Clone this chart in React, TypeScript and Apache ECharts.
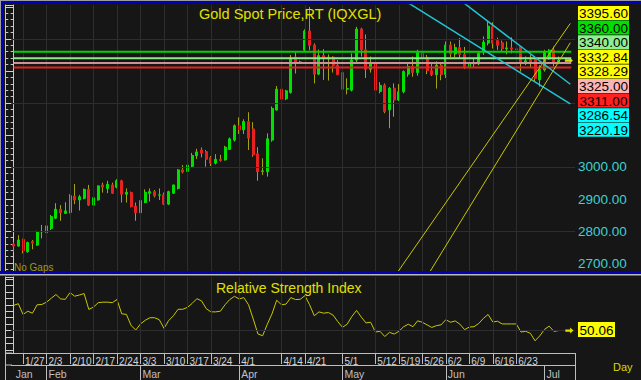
import React, { useEffect, useRef } from 'react';
import * as echarts from 'echarts';

const FONT = '"Liberation Sans", Arial, sans-serif';
const TOTAL_SLOTS = 120;

// [open, close, low, high] per trading day from 1/23
const ohlc: [number, number, number, number][] = [
  [2759, 2753, 2735, 2767], [2753, 2772, 2751, 2787], [2774, 2739, 2730, 2776], [2735, 2764, 2732, 2767],
  [2767, 2762, 2743, 2772], [2756, 2798, 2754, 2801], [2797, 2799, 2777, 2819], [2795, 2816, 2772, 2829],
  [2808, 2845, 2803, 2850], [2840, 2868, 2837, 2887], [2868, 2857, 2832, 2881], [2855, 2863, 2853, 2890],
  [2858, 2910, 2855, 2915], [2909, 2897, 2884, 2947], [2897, 2907, 2864, 2913], [2902, 2930, 2899, 2933],
  [2930, 2881, 2878, 2944], [2881, 2904, 2878, 2907], [2897, 2941, 2895, 2942], [2944, 2937, 2920, 2951],
  [2933, 2946, 2918, 2957], [2944, 2918, 2916, 2951], [2937, 2957, 2933, 2962], [2957, 2915, 2889, 2960],
  [2915, 2921, 2889, 2933], [2920, 2876, 2874, 2923], [2878, 2857, 2832, 2889], [2857, 2895, 2855, 2899],
  [2889, 2921, 2887, 2930], [2918, 2923, 2892, 2933], [2923, 2910, 2905, 2928], [2912, 2913, 2897, 2933],
  [2913, 2884, 2881, 2920], [2884, 2923, 2881, 2926], [2918, 2944, 2916, 2944], [2933, 2991, 2930, 2993],
  [2991, 2984, 2980, 3006], [2986, 3006, 2982, 3009], [3002, 3036, 2999, 3044], [3035, 3047, 3025, 3057],
  [3053, 3043, 3030, 3061], [3048, 3024, 3001, 3053], [3029, 3012, 3003, 3034], [3012, 3024, 3008, 3040],
  [3024, 3020, 3017, 3038], [3022, 3062, 3020, 3066], [3055, 3088, 3053, 3092], [3084, 3129, 3079, 3133],
  [3129, 3116, 3103, 3155], [3116, 3142, 3103, 3149], [3142, 3090, 3053, 3171], [3119, 3038, 3032, 3140],
  [3041, 2985, 2957, 3062], [2986, 2988, 2975, 3027], [2985, 3088, 2970, 3105], [3084, 3183, 3079, 3189],
  [3178, 3243, 3176, 3253], [3243, 3212, 3196, 3253], [3213, 3238, 3209, 3241], [3233, 3341, 3229, 3350],
  [3343, 3327, 3292, 3358], [3327, 3328, 3324, 3332], [3365, 3425, 3360, 3430], [3425, 3380, 3365, 3500],
  [3381, 3290, 3261, 3386], [3290, 3348, 3287, 3367], [3348, 3338, 3272, 3368], [3338, 3343, 3270, 3352],
  [3343, 3317, 3295, 3346], [3318, 3288, 3287, 3334], [3295, 3243, 3207, 3298], [3243, 3245, 3227, 3277],
  [3240, 3334, 3236, 3355], [3334, 3431, 3328, 3438], [3431, 3366, 3345, 3435], [3366, 3305, 3278, 3414],
  [3305, 3324, 3295, 3345], [3325, 3240, 3233, 3330], [3236, 3255, 3230, 3265], [3256, 3173, 3168, 3261],
  [3178, 3246, 3121, 3250], [3246, 3209, 3157, 3261], [3209, 3235, 3206, 3259], [3235, 3298, 3230, 3302],
  [3290, 3314, 3282, 3325], [3314, 3295, 3282, 3345], [3295, 3357, 3285, 3366], [3357, 3342, 3323, 3365],
  [3342, 3301, 3290, 3350], [3301, 3288, 3284, 3325], [3288, 3318, 3245, 3330], [3318, 3289, 3271, 3326],
  [3289, 3381, 3278, 3392], [3381, 3353, 3343, 3392], [3353, 3373, 3343, 3385], [3373, 3352, 3338, 3403],
  [3352, 3310, 3306, 3375], [3310, 3326, 3294, 3338], [3326, 3322, 3310, 3338], [3322, 3355, 3318, 3360],
  [3360, 3390, 3350, 3408], [3387, 3440, 3380, 3454], [3438, 3386, 3370, 3452], [3395, 3380, 3366, 3404],
  [3388, 3369, 3360, 3395], [3369, 3372, 3352, 3392], [3372, 3368, 3355, 3405], [3368, 3368.5, 3350, 3402],
  [3376, 3328, 3298, 3377], [3325, 3332, 3318, 3345], [3335, 3327, 3310, 3350], [3340, 3277, 3267, 3340],
  [3272, 3305, 3251, 3318], [3303, 3360, 3298, 3366], [3338, 3365, 3335, 3368], [3366, 3326, 3314, 3376],
  [3326, 3332.84, 3322, 3345],
];

const rsiValues = [
  69.5, 70.8, 62.5, 65, 63.5, 70, 70.2, 72, 75, 77.9, 74.5, 74.2, 79.4, 76.6, 77.5, 78.6, 66.4, 68.2, 71.6, 72,
  72, 71.6, 74, 63, 62.6, 54, 50.5, 55.2, 58, 60, 60, 58.5, 51.8, 57.8, 61.5, 66.5, 66.5, 68, 71, 74.7,
  73, 67, 64.5, 64.5, 65, 70, 74, 76.5, 74.5, 75.5, 70, 59, 47.5, 46.1, 55, 63, 73.5, 70, 70.5, 75.5,
  74, 74.2, 77, 70, 61.5, 64.5, 63.5, 64, 62, 57, 52.6, 55, 61, 65.6, 60.5, 56, 56.5, 49, 49.5, 45.5,
  48.7, 47.4, 49.5, 53, 55, 53.1, 57.6, 56.5, 54.5, 52.5, 53.9, 54.5, 58.5, 56.5, 57.5, 55, 50.8, 52.8, 53.1, 55.5,
  59.5, 62.5, 56.7, 57.3, 55.2, 55.2, 55.2, 55.2, 49, 49.5, 48, 42.2, 46, 51, 53.5, 49.5, 50.06,
];

const weekLabels = ['1/27', '2/3', '2/10', '2/17', '2/24', '3/3', '3/10', '3/17', '3/24', '4/1', '4/14', '4/21',
  '5/1', '5/12', '5/19', '5/26', '6/2', '6/9', '6/16', '6/23'];
const monthNames = ['Jan', 'Feb', 'Mar', 'Apr', 'May', 'Jun', 'Jul', 'Aug'];

const levelLines = [
  { value: 3360, color: '#00d400' },
  { value: 3340, color: '#8ee88e' },
  { value: 3325, color: '#c89494' },
  { value: 3311, color: '#e42020' },
];

// trendlines: [dayIndex, price] end points
const yellowTrends = [
  [[80, 2634.9], [118.5, 3448.4]],
  [[87, 2634.3], [118.5, 3388.1]],
];
const cyanTrends = [
  [[95, 3521.7], [118.5, 3258.5]],
  [[83, 3521.8], [118.5, 3197.3]],
];

const priceBoxes = [
  { value: 3395.6, bg: '#ffff00' },
  { value: 3360.0, bg: '#00e000' },
  { value: 3340.0, bg: '#90ee90' },
  { value: 3332.84, bg: '#ffff00' },
  { value: 3328.29, bg: '#ffff00' },
  { value: 3325.0, bg: '#ffb4b4' },
  { value: 3311.0, bg: '#ff2020' },
  { value: 3286.54, bg: '#00ffff' },
  { value: 3220.19, bg: '#00ffff' },
];
const lastPrice = 3332.84;
const priceAxisLabels = [2700, 2800, 2900, 3000];
const gridPrices = [2800, 3000, 3200, 3400];
const priceRange = [2672, 3506];
const rsiRange = [32.8, 91.4];
const rsiMid = 50;

// trading-day categories (weekdays) starting 2025-01-23
const dates: string[] = [];
const monthOf: number[] = [];
{
  const d = new Date(2025, 0, 23);
  while (dates.length < TOTAL_SLOTS) {
    const wd = d.getDay();
    if (wd !== 0 && wd !== 6) {
      dates.push(`${d.getMonth() + 1}/${d.getDate()}`);
      monthOf.push(d.getMonth());
    }
    d.setDate(d.getDate() + 1);
  }
}
const weekIdx = weekLabels.map((l) => dates.indexOf(l));
const weekSet = new Set(weekIdx);
const monthStarts = new Set<number>();
for (let i = 1; i < ohlc.length; i++) if (monthOf[i] !== monthOf[i - 1]) monthStarts.add(i);

const WICK = '#a2a214';
const UP = '#00e000';
const DOWN = '#e82020';
const GRIDC = '#2e2e2e';
const ARROW = 'path://M0,3 L6,3 L6,0 L10,5 L6,10 L6,7 L0,7 Z';

export default function App() {
  const ref = useRef<HTMLDivElement>(null);
  useEffect(() => {
    if (!ref.current) return;
    const chart = echarts.init(ref.current, undefined, { renderer: 'svg' });

    const wickData = ohlc.map(([o, c, l, h], i) => [i, o, c, l, h]);
    const bodyData = ohlc.map(([o, c], i) => [i, o, c, Math.min(o, c), Math.max(o, c)]);

    const lineSeries = (pts: number[][], color: string, width: number) => ({
      type: 'line', xAxisIndex: 0, yAxisIndex: 0, data: pts, symbol: 'none', silent: true, z: 5,
      lineStyle: { color, width }, clip: true,
    });

    const yTicksCommon = {
      axisLine: { show: true, lineStyle: { color: '#c8c8c8', width: 1 } },
      axisTick: { show: true, inside: true, length: 5, lineStyle: { color: '#d0d0d0' } },
      splitLine: { show: false },
    };

    const font = (s: number) => `${s}px ${FONT}`;

    const graphics: any[] = [
      { type: 'rect', shape: { x: 0, y: 0, width: 641, height: 1 }, style: { fill: '#9c9c9c' }, z: 100 },
      { type: 'rect', shape: { x: 0, y: 1, width: 641, height: 3 }, style: { fill: '#0000b4' }, z: 100 },
      { type: 'rect', shape: { x: 0, y: 0, width: 1, height: 275 }, style: { fill: '#9c9c9c' }, z: 100 },
      { type: 'rect', shape: { x: 1, y: 1, width: 3, height: 273 }, style: { fill: '#0000b4' }, z: 100 },
      { type: 'rect', shape: { x: 0, y: 271, width: 641, height: 3 }, style: { fill: '#0000b4' }, z: 100 },
      { type: 'rect', shape: { x: 0, y: 274, width: 641, height: 1.5 }, style: { fill: '#b8b8b8' }, z: 100 },
      { type: 'rect', shape: { x: 5, y: 353, width: 1, height: 27 }, style: { fill: '#bdbdbd' }, z: 100 },
      { type: 'rect', shape: { x: 5, y: 352.5, width: 7, height: 1 }, style: { fill: '#bdbdbd' }, z: 100 },
      { type: 'rect', shape: { x: 5, y: 364.5, width: 7, height: 1 }, style: { fill: '#bdbdbd' }, z: 100 },
      { type: 'rect', shape: { x: 575, y: 353, width: 1, height: 27 }, style: { fill: '#bdbdbd' }, z: 100 },
      {
        type: 'text', x: 14, y: 267, z: 100,
        style: { text: 'No Gaps', fill: '#9a9a20', font: font(10), align: 'left', verticalAlign: 'middle' },
      },
      {
        type: 'text', x: 613, y: 367, z: 100,
        style: { text: 'Day', fill: '#d8d800', font: font(11), align: 'left', verticalAlign: 'middle' },
      },
      { type: 'rect', shape: { x: 578, y: 322, width: 37, height: 15 }, style: { fill: '#ffff00' }, z: 100 },
      {
        type: 'text', x: 596.5, y: 330, z: 101,
        style: { text: rsiValues[rsiValues.length - 1].toFixed(2), fill: '#000', font: font(13.5), align: 'center', verticalAlign: 'middle' },
      },
    ];
    priceBoxes.forEach((b, k) => {
      const y = 6 + k * 14.6;
      graphics.push({ type: 'rect', shape: { x: 578, y, width: 51, height: 14 }, style: { fill: b.bg }, z: 100 });
      graphics.push({
        type: 'text', x: 603.5, y: y + 7.5, z: 101,
        style: { text: b.value.toFixed(2), fill: '#000', font: font(13.5), align: 'center', verticalAlign: 'middle' },
      });
    });

    const option: any = {
      animation: false,
      backgroundColor: '#161616',
      textStyle: { fontFamily: FONT },
      title: [
        {
          text: 'Gold Spot Price,RT (IQXGL)', left: 199, top: 6, padding: 0,
          textStyle: { color: '#e0e000', fontSize: 14.5, fontWeight: 'normal', fontFamily: FONT },
        },
        {
          text: 'Relative Strength Index', left: 216, top: 281, padding: 0,
          textStyle: { color: '#e0e000', fontSize: 14, fontWeight: 'normal', fontFamily: FONT },
        },
      ],
      grid: [
        { left: 11.3, right: 66, top: 5, bottom: 108 },
        { left: 11.3, right: 66, top: 277, bottom: 27 },
      ],
      xAxis: [
        { type: 'value', gridIndex: 0, min: -0.5, max: TOTAL_SLOTS - 0.5, show: false },
        { type: 'value', gridIndex: 1, min: -0.5, max: TOTAL_SLOTS - 0.5, show: false, position: 'top' },
        {
          type: 'category', gridIndex: 1, data: dates, position: 'bottom', boundaryGap: true,
          axisLine: { show: true, lineStyle: { color: '#bdbdbd' } },
          axisTick: { show: true, alignWithLabel: true, interval: (i: number) => weekSet.has(i), length: 11, lineStyle: { color: '#bdbdbd' } },
          axisLabel: {
            interval: (i: number) => weekSet.has(i), align: 'left', padding: [0, 0, 0, 2], margin: 3,
            color: '#d4d4d4', fontSize: 10, fontFamily: FONT,
          },
          splitLine: { show: false },
        },
        {
          type: 'category', gridIndex: 1, data: dates, position: 'bottom', offset: 12, boundaryGap: true,
          axisLine: { show: true, lineStyle: { color: '#bdbdbd' } },
          axisTick: { show: true, alignWithLabel: true, interval: (i: number) => monthStarts.has(i), length: 15, lineStyle: { color: '#bdbdbd' } },
          axisLabel: {
            interval: (i: number) => i === 0 || monthStarts.has(i), align: 'left', padding: [0, 0, 0, 2], margin: 3,
            color: '#c0c0c0', fontSize: 10.5, fontFamily: FONT,
            formatter: (_v: string, i: number) => monthNames[monthOf[i]],
          },
          splitLine: { show: false },
        },
      ],
      yAxis: [
        {
          type: 'value', gridIndex: 0, position: 'right', min: priceRange[0], max: priceRange[1],
          minInterval: 100, maxInterval: 100, ...yTicksCommon,
          minorTick: { show: true, splitNumber: 5, length: 3, lineStyle: { color: '#c8c8c8' } },
          axisLabel: {
            show: true, margin: 3, color: '#3fd0d0', fontSize: 13.5, fontFamily: FONT,
            formatter: (v: number) => (priceAxisLabels.some((p) => Math.abs(p - v) < 0.01) ? v.toFixed(2) : ''),
          },
        },
        {
          type: 'value', gridIndex: 0, position: 'left', offset: 6, min: priceRange[0], max: priceRange[1],
          minInterval: 100, maxInterval: 100, ...yTicksCommon,
          minorTick: { show: true, splitNumber: 5, length: 3, lineStyle: { color: '#c8c8c8' } },
          axisLabel: { show: false },
        },
        {
          type: 'value', gridIndex: 1, position: 'right', min: rsiRange[0], max: rsiRange[1],
          minInterval: 5, maxInterval: 5, ...yTicksCommon, axisLabel: { show: false },
        },
        {
          type: 'value', gridIndex: 1, position: 'left', offset: 6, min: rsiRange[0], max: rsiRange[1],
          minInterval: 5, maxInterval: 5, ...yTicksCommon, axisLabel: { show: false },
        },
      ],
      graphic: graphics,
      series: [
        {
          type: 'line', xAxisIndex: 0, yAxisIndex: 0, data: [], z: 1, silent: true,
          markLine: {
            silent: true, symbol: ['none', 'none'], label: { show: false },
            lineStyle: { color: GRIDC, width: 1, type: 'solid' },
            data: [...weekIdx.map((i) => ({ xAxis: i })), ...gridPrices.map((v) => ({ yAxis: v }))],
          },
        },
        {
          type: 'candlestick', xAxisIndex: 0, yAxisIndex: 0, data: wickData, z: 2,
          encode: { x: 0, y: [1, 2, 3, 4] }, barWidth: 1, silent: true,
          itemStyle: { color: WICK, color0: WICK, borderColor: WICK, borderColor0: WICK, borderWidth: 1 },
        },
        {
          type: 'candlestick', xAxisIndex: 0, yAxisIndex: 0, data: bodyData, z: 3,
          encode: { x: 0, y: [1, 2, 3, 4] }, barWidth: 2.5, silent: true,
          itemStyle: { color: UP, color0: DOWN, borderColor: UP, borderColor0: DOWN, borderWidth: 1 },
          markPoint: {
            silent: true, symbol: ARROW, symbolSize: [8, 6], label: { show: false },
            itemStyle: { color: '#e0e000' },
            data: [{ coord: [118.2, lastPrice] }],
          },
        },
        ...levelLines.map((l) => lineSeries([[0, l.value], [118.7, l.value]], l.color, 2)),
        ...cyanTrends.map((t) => lineSeries(t, '#22c4d4', 1.5)),
        ...yellowTrends.map((t) => lineSeries(t, '#c8c800', 1)),
        {
          type: 'line', xAxisIndex: 1, yAxisIndex: 2, data: [], z: 1, silent: true,
          markLine: {
            silent: true, symbol: ['none', 'none'], label: { show: false },
            lineStyle: { color: GRIDC, width: 1, type: 'solid' },
            data: [...weekIdx.map((i) => ({ xAxis: i })), { yAxis: rsiMid }],
          },
        },
        {
          type: 'line', xAxisIndex: 1, yAxisIndex: 2, z: 3, silent: true,
          data: rsiValues.map((v, i) => [i, v]), symbol: 'none',
          lineStyle: { color: '#c8c800', width: 1 },
          markPoint: {
            silent: true, symbol: ARROW, symbolSize: [8, 6], label: { show: false },
            itemStyle: { color: '#e0e000' },
            data: [{ coord: [118.3, rsiValues[rsiValues.length - 1]] }],
          },
        },
      ],
    };
    chart.setOption(option);
    return () => chart.dispose();
  }, []);
  return <div ref={ref} style={{ position: 'fixed', left: 0, top: 0, width: 641, height: 380 }} />;
}
